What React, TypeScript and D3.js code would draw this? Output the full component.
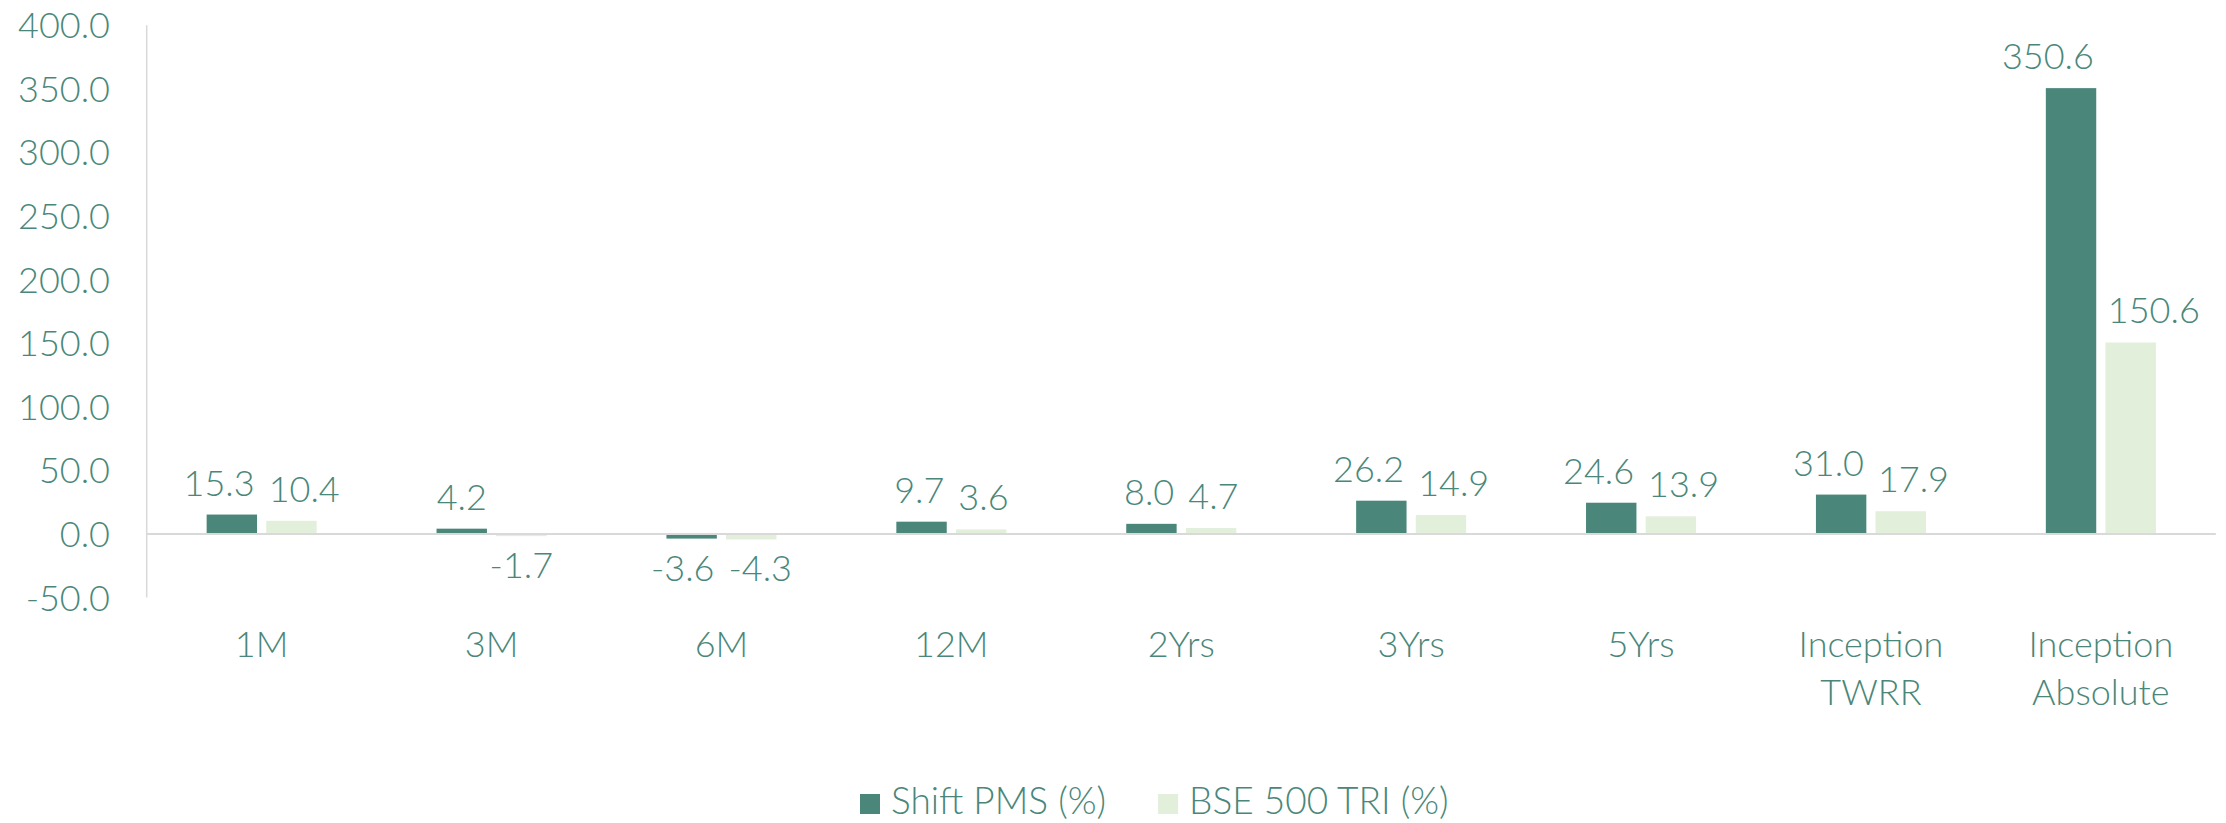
import { useRef, useEffect } from "react";
import * as d3 from "d3";

const categories = ["1M", "3M", "6M", "12M", "2Yrs", "3Yrs", "5Yrs", "Inception TWRR", "Inception Absolute"];
const categoryLines = [["1M"], ["3M"], ["6M"], ["12M"], ["2Yrs"], ["3Yrs"], ["5Yrs"], ["Inception", "TWRR"], ["Inception", "Absolute"]];
const shiftPms = [15.3, 4.2, -3.6, 9.7, 8.0, 26.2, 24.6, 31.0, 350.6];
const bse500 = [10.4, -1.7, -4.3, 3.6, 4.7, 14.9, 13.9, 17.9, 150.6];
const seriesNames = ["Shift PMS (%)", "BSE 500 TRI (%)"];
const yTicks = [-50, 0, 50, 100, 150, 200, 250, 300, 350, 400];

const COLORS = ["#4a877a", "#e2efdb"];
const TEXT = "#4a877a";
const FONT = "Lato, 'Open Sans', sans-serif";

const W = 2226;
const H = 823;

export default function App() {
  const svgRef = useRef<SVGSVGElement>(null);

  useEffect(() => {
    document.body.style.margin = "0";
    if (!svgRef.current) return;
    const svg = d3.select(svgRef.current);
    svg.selectAll("*").remove();

    const left = 146.7;
    const right = 2215.8;

    const x = d3.scaleBand<string>().domain(categories).range([left, right]).padding(0);
    const y = d3.scaleLinear().domain([-50, 400]).range([597.6, 25.3]);

    const bw = x.bandwidth();
    const barW = bw * 0.2023;
    const innerGap = bw * 0.074;
    const seriesX = d3.scaleBand<number>().domain([0, 1]).range([-(barW + innerGap / 2), barW + innerGap / 2]).paddingInner(innerGap / (2 * barW + innerGap));

    const styleText = (sel: d3.Selection<SVGTextElement, any, any, any>, size = 36) =>
      sel.attr("fill", TEXT)
        .style("font-family", FONT)
        .style("font-weight", "300")
        .style("font-size", `${size}px`);

    // y tick labels
    svg.append("g")
      .selectAll("text")
      .data(yTicks)
      .enter()
      .append("text")
      .attr("x", 110)
      .attr("y", (d) => y(d))
      .attr("dy", "0.36em")
      .attr("text-anchor", "end")
      .call(styleText)
      .text((d) => d.toFixed(1));

    // axis line
    svg.append("line")
      .attr("x1", left).attr("x2", left)
      .attr("y1", y(400)).attr("y2", y(-50))
      .attr("stroke", "#d9d9d9").attr("stroke-width", 1.5);

    const series = [shiftPms, bse500];

    // bars
    series.forEach((vals, si) => {
      svg.append("g")
        .selectAll("rect")
        .data(vals)
        .enter()
        .append("rect")
        .attr("x", (_, i) => x(categories[i])! + bw / 2 + seriesX(si)!)
        .attr("width", seriesX.bandwidth())
        .attr("y", (d) => y(Math.max(0, d)))
        .attr("height", (d) => Math.abs(y(d) - y(0)))
        .attr("fill", COLORS[si]);
    });

    svg.append("line")
      .attr("x1", left).attr("x2", right)
      .attr("y1", y(0)).attr("y2", y(0))
      .attr("stroke", "#d9d9d9").attr("stroke-width", 2);

    // data labels, pushed apart when the pair would overlap
    const labelG = svg.append("g");
    categories.forEach((c, i) => {
      const nodes: { el: SVGTextElement; cx: number; w: number; pos: boolean }[] = [];
      series.forEach((vals, si) => {
        const v = vals[i];
        const cx = x(c)! + bw / 2 + seriesX(si)! + seriesX.bandwidth() / 2;
        const t = labelG.append("text")
          .attr("x", cx)
          .attr("y", v >= 0 ? y(v) - 19 : y(v) + 42)
          .attr("text-anchor", "middle")
          .call(styleText)
          .text(v.toFixed(1));
        const el = t.node()!;
        nodes.push({ el, cx, w: el.getComputedTextLength(), pos: v >= 0 });
      });
      const [a, b] = nodes;
      const need = (a.w + b.w) / 2 + 14;
      const sep = b.cx - a.cx;
      if (a.pos === b.pos && sep < need) {
        const d = (need - sep) / 2;
        d3.select(a.el).attr("x", a.cx - d);
        d3.select(b.el).attr("x", b.cx + d);
      }
    });

    // category labels
    svg.append("g")
      .selectAll("text")
      .data(categoryLines)
      .enter()
      .append("text")
      .attr("text-anchor", "middle")
      .call(styleText)
      .each(function (lines, i) {
        const t = d3.select(this);
        lines.forEach((ln, li) => {
          t.append("tspan")
            .attr("x", x(categories[i])! + bw / 2)
            .attr("y", 657 + li * 48)
            .text(ln);
        });
      });

    // legend
    const lg = svg.append("g");
    let lx = 860;
    seriesNames.forEach((name, si) => {
      lg.append("rect")
        .attr("x", lx).attr("y", 794)
        .attr("width", 20).attr("height", 20)
        .attr("fill", COLORS[si]);
      const t = lg.append("text")
        .attr("x", lx + 31)
        .attr("y", 814)
        .call(styleText, 37)
        .text(name);
      lx += 31 + t.node()!.getComputedTextLength() + 52;
    });
  }, []);

  return <svg ref={svgRef} width={W} height={H} style={{ display: "block", background: "#fff" }} />;
}
